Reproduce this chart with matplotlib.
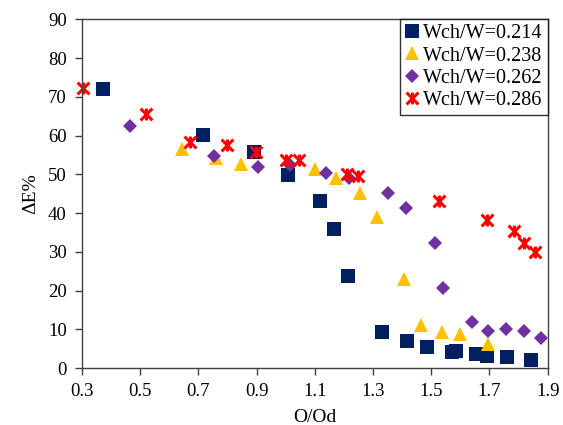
import numpy as np
from matplotlib import pyplot as plt
from matplotlib.path import Path

plt.rcParams['font.family'] = ['Liberation Serif', 'DejaVu Serif']

# Wch/W = 0.214
x1 = [0.373, 0.717, 0.890, 1.007, 1.118, 1.165, 1.215, 1.331, 1.417, 1.485, 1.572, 1.585, 1.653, 1.690, 1.760, 1.844]
y1 = [72.0, 60.1, 55.8, 49.8, 43.1, 36.0, 23.7, 9.2, 7.0, 5.5, 4.1, 4.4, 3.6, 3.0, 2.8, 2.1]
# Wch/W = 0.238
x2 = [0.644, 0.759, 0.848, 1.099, 1.174, 1.255, 1.315, 1.405, 1.465, 1.536, 1.599, 1.695]
y2 = [56.4, 54.1, 52.6, 51.4, 49.0, 45.3, 38.9, 22.9, 11.1, 9.2, 8.9, 6.1]
# Wch/W = 0.262
x3 = [0.464, 0.754, 0.906, 1.014, 1.137, 1.219, 1.351, 1.413, 1.512, 1.541, 1.639, 1.695, 1.758, 1.820, 1.877]
y3 = [62.5, 54.7, 51.9, 52.4, 50.3, 49.0, 45.3, 41.2, 32.3, 20.6, 11.8, 9.6, 10.0, 9.5, 7.8]
# Wch/W = 0.286
x4 = [0.302, 0.521, 0.670, 0.797, 0.899, 1.001, 1.045, 1.209, 1.250, 1.525, 1.691, 1.785, 1.820, 1.855]
y4 = [72.2, 65.5, 58.4, 57.5, 55.8, 53.7, 53.7, 50.2, 49.6, 43.1, 38.2, 35.4, 32.2, 30.0]

labels = ['Wch/W=0.214', 'Wch/W=0.238', 'Wch/W=0.262', 'Wch/W=0.286']

# excel style star: an X with a vertical bar through it
star = Path([(-1, -1), (1, 1), (-1, 1), (1, -1), (0, -1), (0, 1)],
            [Path.MOVETO, Path.LINETO, Path.MOVETO, Path.LINETO, Path.MOVETO, Path.LINETO])

fig = plt.figure(figsize=(5.63, 4.25), dpi=100)
ax = fig.add_axes([0.1456, 0.134, 0.8272, 0.8206])

ax.plot(x1, y1, 's', color='#002060', markersize=9.5, mew=0, label=labels[0], clip_on=False)
ax.plot(x2, y2, '^', color='#FFC000', markersize=9.5, mew=0, label=labels[1], clip_on=False)
ax.plot(x3, y3, 'D', color='#7030A0', markersize=7, mew=0, label=labels[2], clip_on=False)
ax.plot(x4, y4, marker=star, linestyle='none', color='#FF0000', markersize=8.5, mew=2.2,
        label=labels[3], clip_on=False)

ax.set_xlim(0.3, 1.9)
ax.set_ylim(0, 90)
ax.set_xticks(np.arange(0.3, 1.95, 0.2))
ax.set_xticklabels(['0.3', '0.5', '0.7', '0.9', '1.1', '1.3', '1.5', '1.7', '1.9'])
ax.set_yticks(np.arange(0, 91, 10))
ax.tick_params(direction='out', length=5, width=1, pad=6, colors='#404040', labelcolor='black', labelsize=13.5)
for s in ax.spines.values():
    s.set_color('#404040')
    s.set_linewidth(1)

ax.set_xlabel('O/Od', fontsize=14, labelpad=6)
ax.set_ylabel('ΔE%', fontsize=14, labelpad=6)

leg = ax.legend(loc='upper right', fontsize=14.5, frameon=True, fancybox=False, borderaxespad=0,
                handlelength=0.7, handletextpad=0.2, borderpad=0.25, labelspacing=0.15)
leg.get_frame().set_edgecolor('black')
leg.get_frame().set_linewidth(1)
leg.set_zorder(5)

fig.savefig('out.png', dpi=100)
